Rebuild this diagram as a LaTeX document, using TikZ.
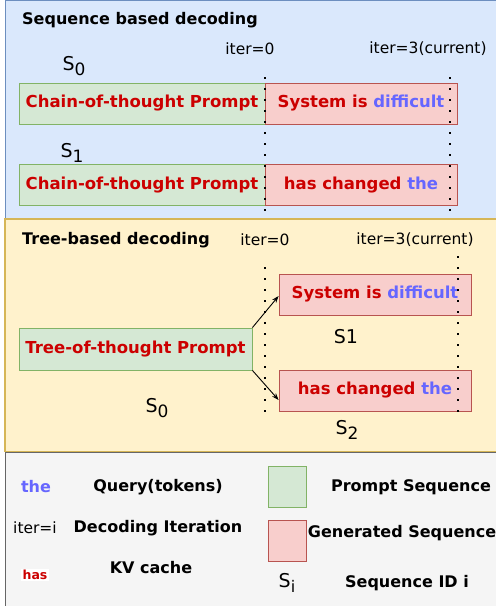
\documentclass[tikz,border=0pt]{standalone}
\usepackage{fontspec}
\setmainfont{DejaVu Sans}
\usetikzlibrary{arrows.meta,calc}
\definecolor{redtxt}{HTML}{CC0000}
\definecolor{bluetxt}{HTML}{6666FF}
\definecolor{bluefill}{HTML}{DAE8FC}
\definecolor{bluedraw}{HTML}{6C8EBF}
\definecolor{yelfill}{HTML}{FFF2CC}
\definecolor{yeldraw}{HTML}{D6B656}
\definecolor{grayfill}{HTML}{F5F5F5}
\definecolor{graydraw}{HTML}{666666}
\definecolor{gfill}{HTML}{D5E8D4}
\definecolor{gdraw}{HTML}{82B366}
\definecolor{rfill}{HTML}{F8CECC}
\definecolor{rdraw}{HTML}{B85450}
\newcommand{\seqid}[2]{S\raisebox{-0.4ex}{\fontsize{#2}{#2}\selectfont #1}}
\begin{document}
\begin{tikzpicture}[x=1pt,y=-1pt,
  title/.style={font=\fontsize{16}{19}\selectfont\bfseries, inner sep=0pt},
  iterlbl/.style={font=\fontsize{15.5}{18}\selectfont, inner sep=0pt},
  sidlbl/.style={font=\fontsize{19}{22}\selectfont, inner sep=0pt},
  gbox/.style={draw=gdraw, fill=gfill, line width=0.8pt, minimum height=41pt, inner sep=0pt,
    text=redtxt, font=\fontsize{16.5}{19}\selectfont\bfseries},
  rbox/.style={draw=rdraw, fill=rfill, line width=0.8pt, minimum height=41pt, inner sep=0pt,
    text=redtxt, font=\fontsize{16.5}{19}\selectfont\bfseries},
  dotline/.style={line width=2pt, dash pattern=on 2pt off 9pt},
  arr/.style={-{Stealth[length=7pt,width=5pt]}, line width=0.9pt},
  legtxt/.style={font=\fontsize{16}{19}\selectfont\bfseries, inner sep=0pt},
  legbox/.style={line width=0.8pt, minimum width=38pt, minimum height=41pt, inner sep=0pt}
]
\useasboundingbox (0,0) rectangle (496,606);
% panels
\draw[fill=bluefill, draw=bluedraw, line width=1pt] (5,0.5) rectangle (510,219);
\draw[fill=yelfill, draw=yeldraw, line width=1.2pt] (5,219) rectangle (510,451.5);
\draw[fill=grayfill, draw=graydraw, line width=1pt] (5,452.5) rectangle (510,615);
\draw[draw=yeldraw, line width=1.2pt] (5,451.5) -- (510,451.5);

% ---------- Sequence based decoding ----------
\node[title, anchor=west] (t1) at (22,20) {Sequence based decoding};
\node[iterlbl] (i0a) at (250,49) {iter=0};
\node[iterlbl] (i3a) at (428,49) {iter=3(current)};
\node[sidlbl] (s0a) at (74,66) {\seqid{0}{17}};
\node[sidlbl] (s1a) at (72,153) {\seqid{1}{17}};

\node[gbox, minimum width=246pt] (g0) at (142,103.5) {Chain-of-thought Prompt};
\node[rbox, minimum width=192pt] (r0) at (361,103.5) {System is \textcolor{bluetxt}{difficult}};
\node[gbox, minimum width=246pt] (g1) at (142,185) {Chain-of-thought Prompt};
\node[rbox, minimum width=192pt] (r1) at (361,185) {has changed \textcolor{bluetxt}{the}};

\coordinate (da1) at (265,77);
\coordinate (da2) at (265,212);
\coordinate (db1) at (450,77);
\coordinate (db2) at (450,212);
\draw[dotline] (da1) -- (da2);
\draw[dotline] (db1) -- (db2);

% ---------- Tree-based decoding ----------
\node[title, anchor=west] (t2) at (22,240) {Tree-based decoding};
\node[iterlbl] (i0b) at (265,240) {iter=0};
\node[iterlbl] (i3b) at (415,240) {iter=3(current)};

\node[gbox, minimum width=233pt, minimum height=42pt] (tg) at (135.5,349) {Tree-of-thought Prompt};
\node[rbox, minimum width=192pt] (tr1) at (375,294.5) {System is \textcolor{bluetxt}{difficult}};
\node[rbox, minimum width=192pt] (tr2) at (375,390.5) {has changed \textcolor{bluetxt}{the}};

\coordinate (dc1) at (265,267);
\coordinate (dc2) at (265,412);
\coordinate (dd1) at (458,256);
\coordinate (dd2) at (458,412);
\draw[dotline] (dc1) -- (dc2);
\draw[dotline] (dd1) -- (dd2);

\draw[arr] (tg.north east) -- ($(tr1.west)+(0,1.5)$);
\draw[arr] (tg.south east) -- ($(tr2.west)+(0,9.5)$);

\node[sidlbl] (s1b) at (346,337) {S1};
\node[sidlbl] (s0b) at (157,408) {\seqid{0}{17}};
\node[sidlbl] (s2b) at (347,430) {\seqid{2}{17}};

% ---------- Legend ----------
\node[legtxt, text=bluetxt] (lthe) at (36,487) {the};
\node[legtxt] (lq) at (158,487) {Query(tokens)};
\node[iterlbl] (liter) at (35,528) {iter=i};
\node[legtxt] (ldec) at (158,528) {Decoding Iteration};
\node[font=\fontsize{12.5}{14}\selectfont\bfseries, text=redtxt, fill=white, inner sep=1.5pt] (lhas) at (35,575) {has};
\node[legtxt] (lkv) at (151,568) {KV cache};

\node[legbox, draw=gdraw, fill=gfill] (lgs) at (287,486.5) {};
\node[legbox, draw=rdraw, fill=rfill] (lrs) at (287,541) {};
\node[legtxt] (lps) at (411,487) {Prompt Sequence};
\node[legtxt] (lgen) at (402,533) {Generated Sequence};
\node[sidlbl] (lsi) at (287,583) {\seqid{i}{16}};
\node[legtxt] (lsid) at (407,583) {Sequence ID i};
\end{tikzpicture}
\end{document}
